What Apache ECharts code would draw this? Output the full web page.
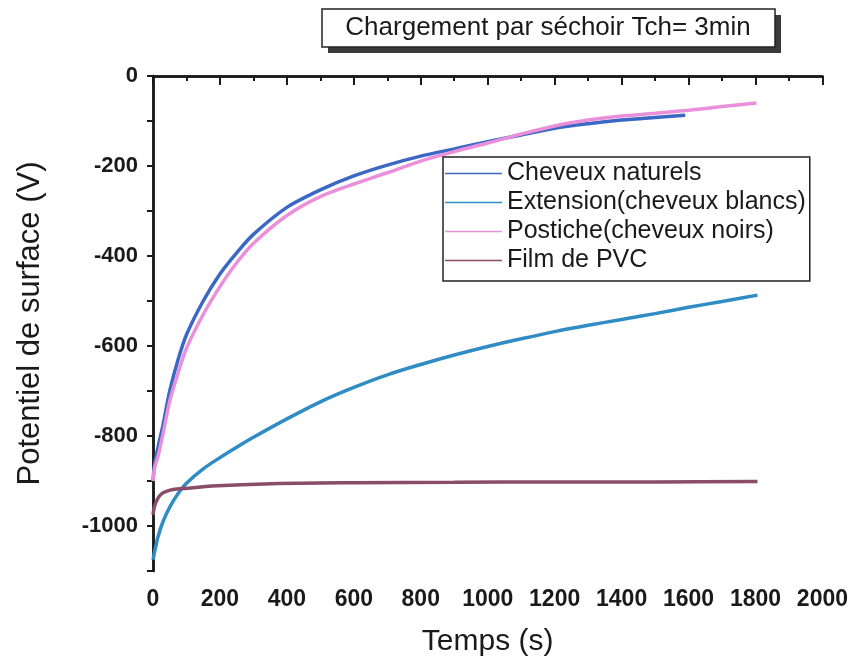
<!DOCTYPE html>
<html>
<head>
<meta charset="utf-8">
<script src="https://cdn.jsdelivr.net/npm/echarts@6/dist/echarts.min.js"></script>
<style>html,body{margin:0;padding:0;background:#fff;}#c{width:851px;height:663px;}</style>
</head>
<body>
<div id="c"></div>
<script>
const seriesNames = ['Cheveux naturels', 'Extension(cheveux blancs)', 'Postiche(cheveux noirs)', 'Film de PVC'];

const tNaturels = [0, 5, 15, 30, 50, 75, 100, 150, 200, 250, 300, 400, 500, 600, 700, 800, 900, 1000, 1100, 1200, 1300, 1400, 1500, 1590];
const vNaturels = [-900, -862, -825, -775, -700, -630, -575, -500, -440, -393, -352, -292, -253, -222, -198, -178, -162, -146, -131, -116, -106, -98, -92, -87];

const tExtension = [0, 6, 15, 30, 50, 75, 100, 150, 200, 250, 300, 400, 500, 600, 700, 800, 900, 1000, 1100, 1200, 1300, 1400, 1500, 1600, 1700, 1806];
const vExtension = [-1075, -1053, -1024, -990, -958, -928, -905, -873, -848, -825, -803, -762, -724, -692, -664, -641, -620, -601, -584, -568, -554, -541, -528, -514, -501, -487];

const tPostiche = [0, 5, 15, 30, 50, 75, 100, 150, 200, 250, 300, 400, 500, 600, 700, 800, 900, 1000, 1100, 1200, 1300, 1400, 1500, 1600, 1700, 1803];
const vPostiche = [-900, -870, -845, -795, -722, -660, -605, -530, -468, -415, -372, -310, -268, -240, -215, -189, -168, -149, -129, -111, -98, -89, -83, -76, -68, -60];

const tPVC = [0, 5, 15, 25, 36, 60, 104, 176, 355, 600, 900, 1200, 1500, 1806];
const vPVC = [-975, -955, -938, -929, -924, -919, -916, -911, -906, -904, -903, -902, -902, -901];

const xTickLabels = [0, 200, 400, 600, 800, 1000, 1200, 1400, 1600, 1800, 2000];
const yTickLabels = [0, -200, -400, -600, -800, -1000];

const colors = ['#3a68c4', '#2f8cc4', '#ea8fd9', '#8a4d68'];
const pair = (t, v) => t.map((x, i) => [x, v[i]]);
const FONT = '"Liberation Sans", Arial, sans-serif';

const chart = echarts.init(document.getElementById('c'));
const axisLine = { show: true, lineStyle: { color: '#1a1a1a', width: 2.5 } };
const tickStyle = { color: '#1a1a1a', width: 2 };

const option = {
  backgroundColor: '#fff',
  animation: false,
  textStyle: { fontFamily: FONT },
  grid: { left: 153, right: 28, top: 76, bottom: 92, containLabel: false },
  legend: {
    orient: 'vertical', left: 443, top: 157,
    backgroundColor: '#fff', borderColor: '#222', borderWidth: 1.5,
    padding: [4, 4, 8, 2], itemGap: 4,
    icon: 'rect', itemWidth: 57, itemHeight: 1.5,
    textStyle: { fontSize: 25, color: '#1a1a1a', fontFamily: FONT },
    data: seriesNames
  },
  graphic: [
    { type: 'rect', shape: { x: 328, y: 15, width: 453, height: 38 }, style: { fill: '#3a3a3a' }, z: 10 },
    { type: 'rect', shape: { x: 322, y: 9, width: 453, height: 38 }, style: { fill: '#fff', stroke: '#222', lineWidth: 1.5 }, z: 11 },
    { type: 'text', x: 548, y: 28, style: { text: 'Chargement par séchoir Tch= 3min', font: '26px ' + FONT, fill: '#1a1a1a', align: 'center', verticalAlign: 'middle' }, z: 12 }
  ],
  xAxis: [
    {
      type: 'value', position: 'bottom', min: 0, max: 2000, interval: 200,
      axisLine: axisLine,
      axisTick: { show: true, inside: false, length: 9, lineStyle: tickStyle },
      minorTick: { show: true, splitNumber: 2, length: 5, lineStyle: tickStyle },
      splitLine: { show: false },
      axisLabel: {
        margin: 17, fontSize: 23, fontWeight: 'bold', color: '#1a1a1a', fontFamily: FONT,
        formatter: v => xTickLabels.includes(v) ? String(v) : ''
      },
      name: 'Temps (s)', nameLocation: 'middle', nameGap: 56,
      nameTextStyle: { fontSize: 30, color: '#1a1a1a', fontFamily: FONT }
    },
    {
      type: 'value', position: 'top', min: 0, max: 2000, interval: 200,
      axisLine: axisLine,
      axisTick: { show: true, inside: true, length: 8, lineStyle: tickStyle },
      minorTick: { show: true, splitNumber: 2, length: 5, lineStyle: tickStyle },
      splitLine: { show: false }, axisLabel: { show: false }
    }
  ],
  yAxis: [
    {
      type: 'value', position: 'left', min: -1100, max: 0, interval: 100,
      axisLine: axisLine,
      axisTick: { show: true, inside: false, length: 6, lineStyle: tickStyle },
      splitLine: { show: false },
      axisLabel: {
        margin: 15, fontSize: 22, fontWeight: 'bold', color: '#1a1a1a', fontFamily: FONT,
        formatter: v => yTickLabels.includes(v) ? String(v) : ''
      },
      name: 'Potentiel de surface (V)', nameLocation: 'middle', nameGap: 107,
      nameTextStyle: { fontSize: 31, color: '#1a1a1a', fontFamily: FONT }
    },
    {
      type: 'value', position: 'right', min: -1100, max: 0, interval: 100,
      axisLine: axisLine,
      axisTick: { show: true, inside: true, length: 6, lineStyle: tickStyle },
      splitLine: { show: false }, axisLabel: { show: false }
    }
  ],
  series: [
    { name: seriesNames[0], data: pair(tNaturels, vNaturels) },
    { name: seriesNames[1], data: pair(tExtension, vExtension) },
    { name: seriesNames[2], data: pair(tPostiche, vPostiche) },
    { name: seriesNames[3], data: pair(tPVC, vPVC) }
  ].map((s, i) => Object.assign({
    type: 'line', xAxisIndex: 0, yAxisIndex: 0, showSymbol: false, smooth: 0.3,
    color: colors[i], lineStyle: { width: 3.5, color: colors[i] }, z: 3
  }, s))
};
chart.setOption(option);
</script>
</body>
</html>
